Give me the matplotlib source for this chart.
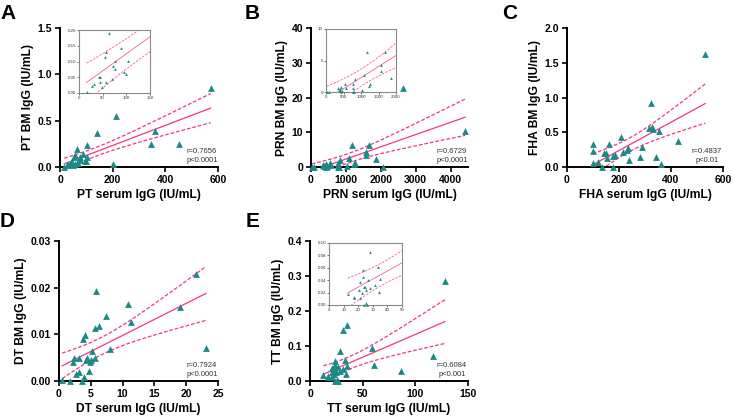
import numpy as np
import matplotlib
matplotlib.use("Agg")
import matplotlib.pyplot as plt

plt.rcParams['font.family'] = ['Liberation Sans', 'DejaVu Sans']

W, H = 733, 418
TEAL = '#1B8A87'
PINK = '#F4367F'

# ---------------- data ----------------
pt_serum = [16, 28, 32, 43, 45, 45, 48, 57, 54, 58, 63, 69, 72, 76, 77, 89, 95, 99, 104,
            101, 139, 200, 212, 347, 360, 452, 572]
pt_bm = [0.004, 0.022, 0.030, 0.050, 0.050, 0.036, 0.020, 0.036, 0.113, 0.129, 0.189, 0.044,
         0.086, 0.077, 0.103, 0.143, 0.068, 0.060, 0.103, 0.234, 0.37, 0.03, 0.55, 0.25,
         0.385, 0.25, 0.85]

prn_serum = [20, 95, 343, 362, 390, 410, 430, 430, 457, 552, 571, 762, 771, 780, 800, 819,
             1029, 1076, 1171, 1219, 1248, 1571, 1581, 1676, 1857, 2050, 2630, 4420]
prn_bm = [0, 0, 0.58, 0.32, 0.42, 0.2, 0.85, 0, 0.15, 1.2, 0.58, 1.2, 0.68, 0.05, 0, 2.0,
          0.32, 2.7, 6.3, 0.95, 1.2, 4.3, 3.4, 6.3, 2.3, 0, 22.7, 10.5]

fha_serum = [99, 99, 101, 120, 133, 144, 149, 152, 161, 178, 178, 185, 206, 217, 229, 236,
             240, 281, 287, 317, 326, 332, 354, 342, 362, 428, 532, 324]
fha_bm = [0.33, 0.235, 0.053, 0.077, 0.005, 0.197, 0.197, 0.134, 0.33, 0.005, 0.158, 0.173,
          0.436, 0.22, 0.245, 0.27, 0.10, 0.149, 0.283, 0.556, 0.57, 0.547, 0.523, 0.149,
          0.043, 0.374, 1.63, 0.92]

dt_serum = [0.5, 1.8, 2.2, 2.3, 2.6, 3.1, 3.1, 3.6, 3.8, 4.0, 4.1, 4.2, 4.4, 4.7, 4.9, 5.1,
            5.2, 5.6, 5.6, 5.8, 6.3, 7.4, 8.0, 10.85, 11.3, 19.0, 21.5, 23.1]
dt_bm = [0.0003, 0.0, 0.0041, 0.0049, 0.0016, 0.0050, 0.0019, 0.0, 0.0089, 0.0009, 0.0099,
         0.0046, 0.0049, 0.0021, 0.0041, 0.0046, 0.0064, 0.0050, 0.0114, 0.0193, 0.0117,
         0.0139, 0.0069, 0.0166, 0.0127, 0.0159, 0.0230, 0.0071]

tt_serum = [12.8, 16.9, 17.4, 20.5, 21.0, 21.2, 22.8, 23.3, 23.5, 24.0, 24.7, 25.1, 25.6,
            24.2, 26.3, 26.5, 28.1, 28.1, 31.5, 33.3, 34.2, 35.2, 31, 35, 59, 61, 86, 117, 128]
tt_bm = [0.017, 0.011, 0.013, 0.025, 0.037, 0.012, 0.020, 0.056, 0.045, 0.029, 0.029, 0.025,
         0.004, 0.0, 0.0, 0.040, 0.028, 0.0856, 0.033, 0.061, 0.021, 0.042, 0.145, 0.161,
         0.094, 0.047, 0.030, 0.071, 0.285]

stats_text = {
    'A': "r=0.7656\np<0.0001",
    'B': "r=0.6729\np<0.0001",
    'C': "r=0.4837\np<0.01",
    'D': "r=0.7924\np<0.0001",
    'E': "r=0.6084\np<0.001",
}

A_xticks = [0, 200, 400, 600]; A_yticks = [0.0, 0.5, 1.0, 1.5]
A_yticklabels = ['0.0', '0.5', '1.0', '1.5']
B_xticks = [0, 1000, 2000, 3000, 4000]; B_yticks = [0, 10, 20, 30, 40]
C_xticks = [0, 200, 400, 600]; C_yticks = [0.0, 0.5, 1.0, 1.5, 2.0]
C_yticklabels = ['0.0', '0.5', '1.0', '1.5', '2.0']
D_xticks = [0, 5, 10, 15, 20, 25]; D_yticks = [0.00, 0.01, 0.02, 0.03]
D_yticklabels = ['0.00', '0.01', '0.02', '0.03']
E_xticks = [0, 50, 100, 150]; E_yticks = [0.0, 0.1, 0.2, 0.3, 0.4]
E_yticklabels = ['0.0', '0.1', '0.2', '0.3', '0.4']

iA_xticks = [0, 50, 100, 150]; iA_yticks = [0.00, 0.05, 0.10, 0.15, 0.20]
iA_yticklabels = ['0.00', '0.05', '0.10', '0.15', '0.20']
iB_xticks = [0, 500, 1000, 1500, 2000]; iB_yticks = [0, 5, 10]
iE_xticks = [0, 10, 20, 30, 40, 50]; iE_yticks = [0.00, 0.02, 0.04, 0.06, 0.08, 0.10]
iE_yticklabels = ['0.00', '0.02', '0.04', '0.06', '0.08', '0.10']


def rect(l, t, r, b):
    return [l / W, 1 - b / H, (r - l) / W, (b - t) / H]


def fit_lines(x, y):
    x = np.asarray(x, float); y = np.asarray(y, float)
    n = len(x)
    b, a = np.polyfit(x, y, 1)
    res = y - (a + b * x)
    s = np.sqrt(np.sum(res ** 2) / (n - 2))
    xm = x.mean(); sxx = np.sum((x - xm) ** 2)
    tval = 1.96 + 2.4 / (n - 2)
    xs = np.linspace(x.min(), x.max(), 200)
    yh = a + b * xs
    se = s * np.sqrt(1.0 / n + (xs - xm) ** 2 / sxx)
    return xs, yh, yh - tval * se, yh + tval * se


def draw_fit(ax, x, y, lw, alpha=1.0):
    xs, yh, lo, hi = fit_lines(x, y)
    ax.plot(xs, yh, color=PINK, lw=lw, alpha=alpha, zorder=2)
    ax.plot(xs, lo, color=PINK, lw=lw, alpha=alpha, ls=(0, (3, 1.5)), zorder=2)
    ax.plot(xs, hi, color=PINK, lw=lw, alpha=alpha, ls=(0, (3, 1.5)), zorder=2)


def main_panel(fig, r, x, y, xlim, ylim, xticks, yticks, yticklabels, xlabel, ylabel):
    ax = fig.add_axes(r)
    draw_fit(ax, x, y, 0.9)
    ax.scatter(x, y, marker='^', s=24, color=TEAL, linewidths=0, zorder=3, clip_on=False)
    ax.set_xlim(*xlim); ax.set_ylim(*ylim)
    ax.set_xticks(xticks); ax.set_yticks(yticks)
    if yticklabels is not None:
        ax.set_yticklabels(yticklabels)
    for s in ['top', 'right']:
        ax.spines[s].set_visible(False)
    for s in ['left', 'bottom']:
        ax.spines[s].set_linewidth(1.4)
    ax.tick_params(direction='out', length=3.5, width=1.2, labelsize=7.5, pad=2)
    for lab in ax.get_xticklabels() + ax.get_yticklabels():
        lab.set_fontweight('bold')
    ax.set_xlabel(xlabel, fontsize=8.7, fontweight='bold', labelpad=3)
    ax.set_ylabel(ylabel, fontsize=8.7, fontweight='bold', labelpad=3)
    return ax


def inset_panel(fig, r, x, y, xlim, ylim, xticks, yticks, yticklabels):
    ax = fig.add_axes(r)
    draw_fit(ax, x, y, 0.6, alpha=0.8)
    x = np.asarray(x); y = np.asarray(y)
    m = (x <= xlim[1]) & (y <= ylim[1])
    ax.scatter(x[m], y[m], marker='^', s=4, color=TEAL, linewidths=0, zorder=3, clip_on=False)
    ax.set_xlim(*xlim); ax.set_ylim(*ylim)
    ax.set_xticks(xticks); ax.set_yticks(yticks)
    if yticklabels is not None:
        ax.set_yticklabels(yticklabels)
    for s in ax.spines.values():
        s.set_color('#8a8a8a'); s.set_linewidth(0.8)
    ax.tick_params(direction='out', length=1.2, width=0.5, labelsize=3.2, pad=1,
                   colors='#333333')
    return ax


fig = plt.figure(figsize=(W / 100, H / 100), dpi=100)

main_panel(fig, rect(60, 28, 218, 167), pt_serum, pt_bm, (0, 600), (0, 1.5),
           A_xticks, A_yticks, A_yticklabels, 'PT serum IgG (IU/mL)', 'PT BM IgG (IU/mL)')
inset_panel(fig, rect(79, 30, 150, 93), pt_serum, pt_bm, (0, 150), (0, 0.20),
            iA_xticks, iA_yticks, iA_yticklabels)

main_panel(fig, rect(311, 28, 468, 167), prn_serum, prn_bm, (0, 4500), (0, 40),
           B_xticks, B_yticks, None, 'PRN serum IgG (IU/mL)', 'PRN BM IgG (IU/mL)')
inset_panel(fig, rect(326, 29, 396, 92), prn_serum, prn_bm, (0, 2000), (0, 10),
            iB_xticks, iB_yticks, None)

main_panel(fig, rect(567, 28, 723, 167), fha_serum, fha_bm, (0, 600), (0, 2.0),
           C_xticks, C_yticks, C_yticklabels, 'FHA serum IgG (IU/mL)', 'FHA BM IgG (IU/mL)')

main_panel(fig, rect(59, 241, 218, 381), dt_serum, dt_bm, (0, 25), (0, 0.03),
           D_xticks, D_yticks, D_yticklabels, 'DT serum IgG (IU/mL)', 'DT BM IgG (IU/mL)')

main_panel(fig, rect(310, 241, 468, 381), tt_serum, tt_bm, (0, 150), (0, 0.4),
           E_xticks, E_yticks, E_yticklabels, 'TT serum IgG (IU/mL)', 'TT BM IgG (IU/mL)')
inset_panel(fig, rect(329, 243, 402, 305), tt_serum, tt_bm, (0, 50), (0, 0.10),
            iE_xticks, iE_yticks, iE_yticklabels)

# panel letters
for letter, (px, py) in {'A': (0, 4), 'B': (245, 4), 'C': (502, 4),
                         'D': (0, 212), 'E': (246, 212)}.items():
    fig.text(px / W, 1 - py / H, letter, fontsize=15, fontweight='bold', ha='left', va='top')

# stats annotations
for letter, (px, py) in {'A': (202, 156), 'B': (452, 156), 'C': (707, 156),
                         'D': (202, 370), 'E': (452, 370)}.items():
    fig.text(px / W, 1 - py / H, stats_text[letter], fontsize=5.5, color='#333333',
             ha='center', va='center', multialignment='center', linespacing=1.25)

fig.savefig('out.png', dpi=100)
